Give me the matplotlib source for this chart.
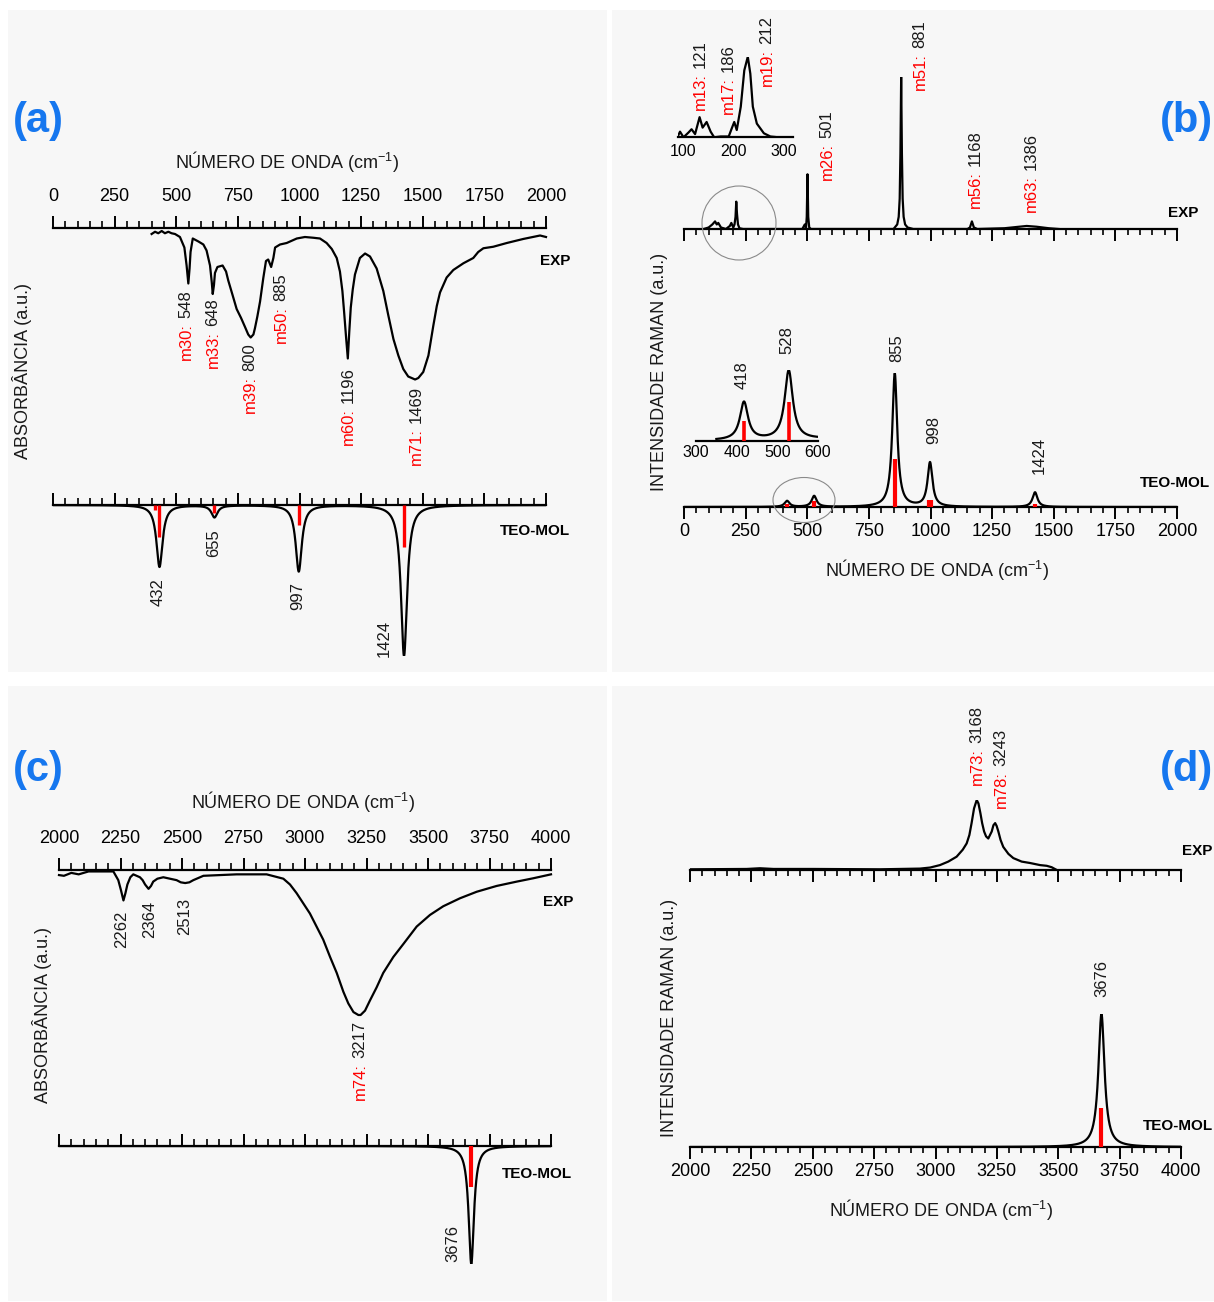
import numpy as np
import matplotlib
matplotlib.use('Agg')
import matplotlib.pyplot as plt
from matplotlib.patches import Rectangle, Ellipse
from matplotlib.ticker import MultipleLocator

plt.rcParams['font.family'] = ['Liberation Sans', 'DejaVu Sans']
plt.rcParams['mathtext.default'] = 'regular'

# ---------------- dados ----------------
# (a) IV experimental, 400-2000 cm-1 (absorbancia, u.a.)
ir_exp_wn = [400, 414, 427, 441, 454, 468, 481, 495, 515, 533,
             542, 549, 554, 558, 567, 590, 610, 623, 637, 644,
             648, 653, 657, 667, 688, 702, 711, 729, 745, 763,
             779, 792, 802, 813, 819, 829, 840, 853, 864, 873,
             885, 894, 901, 921, 948, 989, 1022, 1056, 1083, 1110,
             1131, 1151, 1164, 1174, 1181, 1189, 1196, 1202, 1208, 1216,
             1225, 1245, 1266, 1286, 1313, 1340, 1360, 1381, 1401, 1421,
             1441, 1469, 1482, 1502, 1523, 1543, 1557, 1570, 1597, 1624,
             1665, 1705, 1725, 1746, 1786, 1841, 1908, 1976, 2000]
ir_exp_abs = [0.04, 0.025, 0.035, 0.02, 0.035, 0.025, 0.035, 0.04, 0.06, 0.13,
              0.25, 0.37, 0.27, 0.16, 0.07, 0.09, 0.11, 0.15, 0.25, 0.36,
              0.44, 0.38, 0.30, 0.26, 0.25, 0.29, 0.35, 0.45, 0.54, 0.60,
              0.66, 0.71, 0.73, 0.71, 0.67, 0.59, 0.49, 0.335, 0.22, 0.21,
              0.26, 0.20, 0.13, 0.11, 0.10, 0.07, 0.06, 0.065, 0.07, 0.10,
              0.14, 0.20, 0.29, 0.42, 0.56, 0.73, 0.87, 0.69, 0.53, 0.41,
              0.31, 0.20, 0.17, 0.19, 0.27, 0.42, 0.58, 0.74, 0.85, 0.94,
              0.99, 1.01, 1.0, 0.96, 0.85, 0.65, 0.52, 0.43, 0.33, 0.28,
              0.235, 0.20, 0.16, 0.135, 0.125, 0.10, 0.073, 0.05, 0.06]

# (a) IV teorico
ir_teo_wn = [432, 655, 997, 1424]
ir_teo_int = [0.41, 0.08, 0.44, 1.0]
ir_teo_bar_wn = [415, 432, 655, 997, 1424]
ir_teo_bar = [0.03, 0.21, 0.05, 0.13, 0.28]

# (b) Raman experimental, 0-2000 cm-1
ra_exp_wn = [80, 100, 115, 126, 133, 139, 150, 170, 186, 192, 200, 205, 209, 212, 215, 219,
             225, 240, 480, 490, 495, 498, 501, 504, 508, 515, 850, 865, 871, 875, 878, 881,
             884, 887, 891, 897, 907, 930, 1150, 1160, 1168, 1176, 1190, 1300, 1360, 1390, 1430, 1480,
             1520]
ra_exp_int = [0.0, 0.01, 0.03, 0.05, 0.03, 0.04, 0.01, 0.0, 0.02, 0.04, 0.01, 0.03, 0.08, 0.18, 0.10, 0.03,
              0.005, 0.0, 0.0, 0.03, 0.005, 0.08, 0.36, 0.08, 0.01, 0.0, 0.0, 0.03, 0.08, 0.2, 0.5, 1.0,
              0.5, 0.2, 0.08, 0.03, 0.01, 0.0, 0.0, 0.01, 0.05, 0.01, 0.0, 0.005, 0.015, 0.02, 0.015, 0.005,
              0.0]
# detalhe 100-300
ins_exp_wn = [91, 94, 101, 111, 117, 124, 133, 139, 147, 155, 162, 175, 191, 197, 202, 207,
              215, 222, 229, 234, 239, 247, 261, 274, 290, 310]
ins_exp_int = [0.03, 0.07, 0.0, 0.06, 0.10, 0.04, 0.25, 0.12, 0.19, 0.07, 0.0, 0.01, 0.01, 0.11, 0.19, 0.09,
               0.38, 0.83, 1.0, 0.79, 0.38, 0.17, 0.05, 0.01, 0.0, 0.0]

# (b) Raman teorico
ra_teo_wn = [418, 528, 855, 998, 1424]
ra_teo_int = [0.045, 0.082, 1.0, 0.33, 0.11]
ra_teo_bar_wn = [418, 528, 855, 994, 1002, 1424]
ra_teo_bar = [0.024, 0.046, 0.36, 0.05, 0.05, 0.02]

# (c) IV experimental, 2000-4000 cm-1
ir2_exp_wn = [2000, 2020, 2050, 2080, 2120, 2150, 2221, 2241, 2252, 2262,
              2270, 2278, 2290, 2302, 2329, 2340, 2350, 2364, 2374, 2383,
              2400, 2424, 2478, 2495, 2513, 2530, 2546, 2587, 2722, 2844,
              2912, 2939, 2966, 2993, 3020, 3047, 3074, 3102, 3129, 3156,
              3176, 3197, 3217, 3226, 3244, 3264, 3291, 3318, 3359, 3400,
              3454, 3508, 3562, 3630, 3698, 3779, 3861, 3928, 4000]
ir2_exp_abs = [0.035, 0.04, 0.02, 0.03, 0.01, 0.01, 0.01, 0.07, 0.14, 0.21,
               0.16, 0.10, 0.05, 0.03, 0.05, 0.07, 0.10, 0.13, 0.11, 0.08,
               0.06, 0.05, 0.07, 0.085, 0.09, 0.085, 0.07, 0.04, 0.03, 0.03,
               0.06, 0.10, 0.16, 0.23, 0.30, 0.39, 0.48, 0.60, 0.71, 0.84,
               0.92, 0.98, 1.0, 1.0, 0.97, 0.90, 0.81, 0.71, 0.60, 0.51,
               0.39, 0.31, 0.25, 0.195, 0.15, 0.11, 0.08, 0.057, 0.03]
ir2_teo_wn = [3676]
ir2_teo_int = [1.0]
ir2_teo_bar = [0.35]

# (d) Raman experimental, 2000-4000 cm-1
ra2_exp_wn = [2000, 2231, 2285, 2340, 2502, 2774, 2937, 2978, 3018, 3052,
              3086, 3111, 3127, 3138, 3147, 3157, 3168, 3175, 3183, 3190,
              3198, 3206, 3215, 3222, 3229, 3236, 3243, 3249, 3256, 3265,
              3276, 3297, 3317, 3351, 3385, 3426, 3453, 3473, 3494]
ra2_exp_int = [0.01, 0.015, 0.025, 0.015, 0.015, 0.01, 0.02, 0.035, 0.07, 0.12,
               0.19, 0.29, 0.38, 0.50, 0.67, 0.88, 1.0, 0.95, 0.81, 0.67,
               0.55, 0.48, 0.45, 0.50, 0.55, 0.64, 0.67, 0.63, 0.55, 0.43,
               0.33, 0.23, 0.17, 0.12, 0.10, 0.07, 0.06, 0.04, 0.0]
ra2_teo_wn = [3676]
ra2_teo_int = [1.0]
ra2_teo_bar = [0.29]


def lorentz(x, centros, alturas, hwhm):
    # espectro teorico alargado com lorentzianas
    y = np.zeros_like(x)
    for c, a in zip(centros, alturas):
        y += a / (1 + ((x - c) / hwhm) ** 2)
    return y


W, H = 1214, 1302
fig = plt.figure(figsize=(W / 100, H / 100), dpi=100)
fig.patch.set_facecolor('white')

# fundo dos quatro paineis
bg = fig.add_axes([0, 0, 1, 1], zorder=-1)
bg.set_xlim(0, W)
bg.set_ylim(H, 0)
bg.axis('off')
for (x0, y0, x1, y1) in [(8, 10, 607, 672), (612, 10, 1214, 672), (8, 686, 607, 1301), (612, 686, 1214, 1301)]:
    bg.add_patch(Rectangle((x0, y0), x1 - x0, y1 - y0, fc='#f7f7f7', ec='none'))


def box(x0, x1, ytop, ybot):
    ax = fig.add_axes([x0 / W, 1 - ybot / H, (x1 - x0) / W, (ybot - ytop) / H], zorder=2)
    ax.patch.set_visible(False)
    for s in ax.spines.values():
        s.set_visible(False)
    ax.set_yticks([])
    return ax


def eixo(ax, lado, rotulos=True, tam=13, pad=3.3, maj=8.5, mnr=4.5, passo=(250, 50)):
    ax.spines[lado].set_visible(True)
    ax.spines[lado].set_linewidth(1.6)
    ax.xaxis.set_ticks_position(lado)
    ax.xaxis.set_major_locator(MultipleLocator(passo[0]))
    ax.xaxis.set_minor_locator(MultipleLocator(passo[1]))
    ax.tick_params(axis='x', which='major', direction='out', length=maj, width=1.4,
                   labelsize=tam, pad=pad)
    ax.tick_params(axis='x', which='minor', direction='out', length=mnr, width=1.2)
    lab = {'labeltop': False, 'labelbottom': False}
    if rotulos:
        lab['label' + lado] = True
    ax.tick_params(axis='x', which='both', **lab)


LW = 1.6
x_low = np.linspace(0, 2000, 8001)
x_high = np.linspace(2000, 4000, 8001)

# ---------- (a) ----------
ax = box(53, 546, 228, 378)
ax.plot(ir_exp_wn, ir_exp_abs, color='black', lw=LW, clip_on=False)
ax.set_xlim(0, 2000)
ax.set_ylim(1.0, 0.0)
eixo(ax, 'top', pad=7.3, maj=9, mnr=5)

ax = box(53, 546, 505, 656)
y = lorentz(x_low, ir_teo_wn, ir_teo_int, 15)
ax.plot(x_low, y, color='black', lw=LW)
ax.vlines(ir_teo_bar_wn, 0, ir_teo_bar, color='red', lw=2.4, zorder=3)
ax.set_xlim(0, 2000)
ax.set_ylim(y.max(), 0)
eixo(ax, 'top', rotulos=False, maj=9, mnr=5)

# ---------- (b) ----------
ax = box(684, 1177, 77, 229)
ax.plot(ra_exp_wn, ra_exp_int, color='black', lw=LW)
ax.set_xlim(0, 2000)
ax.set_ylim(0, 1.0)
eixo(ax, 'bottom', rotulos=False)

ax = box(678, 793, 56.7, 137.3)
ax.plot(ins_exp_wn, ins_exp_int, color='black', lw=LW)
ax.set_xlim(90, 319)
ax.set_ylim(0, 1.0)
eixo(ax, 'bottom', tam=11.5, pad=5, maj=0, mnr=0, passo=(100, 50))

ax = box(684, 1177, 373, 507)
y = lorentz(x_low, ra_teo_wn, ra_teo_int, 12)
ax.plot(x_low, y, color='black', lw=LW)
ax.vlines(ra_teo_bar_wn, 0, ra_teo_bar, color='red', lw=3, zorder=3)
ax.set_xlim(0, 2000)
ax.set_ylim(0, y.max())
eixo(ax, 'bottom')

ax = box(696, 818, 370, 441)
xi = np.linspace(350, 600, 2001)
yi = lorentz(xi, ra_teo_wn, ra_teo_int, 12)
ax.plot(xi, yi, color='black', lw=LW)
ax.vlines(ra_teo_bar_wn, 0, ra_teo_bar, color='red', lw=2.6, zorder=3)
ax.set_xlim(300, 600)
ax.set_ylim(0, yi.max())
eixo(ax, 'bottom', tam=11.5, pad=3, maj=0, mnr=0, passo=(100, 50))

# ---------- (c) ----------
ax = box(59, 551, 870, 1015)
ax.plot(ir2_exp_wn, ir2_exp_abs, color='black', lw=LW, clip_on=False)
ax.set_xlim(2000, 4000)
ax.set_ylim(1.0, 0.0)
eixo(ax, 'top', pad=7.5, maj=9, mnr=5)

ax = box(59, 551, 1146, 1264)
y = lorentz(x_high, ir2_teo_wn, ir2_teo_int, 13)
ax.plot(x_high, y, color='black', lw=LW)
ax.vlines(ir2_teo_wn, 0, ir2_teo_bar, color='red', lw=3, zorder=3)
ax.set_xlim(2000, 4000)
ax.set_ylim(y.max(), 0)
eixo(ax, 'top', rotulos=False, maj=9, mnr=5)

# ---------- (d) ----------
ax = box(690, 1181, 800, 870)
ax.plot(ra2_exp_wn, ra2_exp_int, color='black', lw=LW)
ax.set_xlim(2000, 4000)
ax.set_ylim(0, 1.0)
eixo(ax, 'bottom', rotulos=False)

ax = box(690, 1181, 1014, 1147)
y = lorentz(x_high, ra2_teo_wn, ra2_teo_int, 15)
ax.plot(x_high, y, color='black', lw=LW)
ax.vlines(ra2_teo_wn, 0, ra2_teo_bar, color='red', lw=3, zorder=3)
ax.set_xlim(2000, 4000)
ax.set_ylim(0, y.max())
eixo(ax, 'bottom', pad=3)

# ---------- textos ----------
ov = fig.add_axes([0, 0, 1, 1], zorder=10)
ov.set_xlim(0, W)
ov.set_ylim(H, 0)
ov.axis('off')
ov.patch.set_visible(False)
renderer = fig.canvas.get_renderer()
CINZA = '#1a1a1a'
TAM_ROT = 12


def vtxt(x, y, vermelho, preto, size=TAM_ROT):
    y0 = y
    if vermelho:
        t = ov.text(x, y0, vermelho, color='red', rotation=90, ha='center', va='bottom', fontsize=size)
        y0 -= t.get_window_extent(renderer).height + 0.28 * size * 100 / 72
    ov.text(x, y0, preto, color=CINZA, rotation=90, ha='center', va='bottom', fontsize=size)


# rotulos (a)
for x, yb, r, p in [(186, 360, 'm30:', '548'), (213, 368, 'm33:', '648'), (250, 413, 'm39:', '800'),
                    (281, 343, 'm50:', '885'), (348, 445, 'm60:', '1196'), (416, 465, 'm71:', '1469'),
                    (158, 606, '', '432'), (214, 557, '', '655'), (298, 610, '', '997'), (384, 657, '', '1424')]:
    vtxt(x, yb, r, p)
# rotulos (b)
for x, yb, r, p in [(700, 110, 'm13:', '121'), (728, 114, 'm17:', '186'), (767, 86, 'm19:', '212'),
                    (827, 180, 'm26:', '501'), (920, 90, 'm51:', '881'), (975, 208, 'm56:', '1168'),
                    (1031, 212, 'm63:', '1386'),
                    (742, 389, '', '418'), (787, 354, '', '528'), (897, 362, '', '855'),
                    (934, 444, '', '998'), (1039, 474, '', '1424')]:
    vtxt(x, yb, r, p)
# rotulos (c)
for x, yb, r, p in [(122, 948, '', '2262'), (150, 938, '', '2364'), (185, 935, '', '2513'),
                    (360, 1100, 'm74:', '3217'), (453, 1262, '', '3676')]:
    vtxt(x, yb, r, p)
# rotulos (d)
for x, yb, r, p in [(977, 785, 'm73:', '3168'), (1001, 808, 'm78:', '3243'), (1102, 997, '', '3676')]:
    vtxt(x, yb, r, p)

xlab = 'NÚMERO DE ONDA (cm$^{-1}$)'
for x, yy in [(287, 161), (937, 570), (303, 801), (941, 1210)]:
    ov.text(x, yy, xlab, ha='center', va='center', fontsize=13, color=CINZA)
for x, yy, s in [(22, 371, 'ABSORBÂNCIA (a.u.)'), (660, 372, 'INTENSIDADE RAMAN (a.u.)'),
                 (42, 1015, 'ABSORBÂNCIA (a.u.)'), (670, 1018, 'INTENSIDADE RAMAN (a.u.)')]:
    ov.text(x, yy, s, rotation=90, ha='center', va='center', fontsize=13, color=CINZA)

for x, yy, s in [(555, 261, 'EXP'), (535, 531, 'TEO-MOL'), (1183, 213, 'EXP'), (1175, 483, 'TEO-MOL'),
                 (558, 902, 'EXP'), (537, 1174, 'TEO-MOL'), (1197, 851, 'EXP'), (1178, 1126, 'TEO-MOL')]:
    ov.text(x, yy, s, ha='center', va='center', fontsize=11, fontweight='bold', color='black')

for x, yy, s in [(38, 121, '(a)'), (1186, 121, '(b)'), (38, 770, '(c)'), (1186, 770, '(d)')]:
    ov.text(x, yy, s, ha='center', va='center', fontsize=30, fontweight='bold', color='#1677ef')

# circulos de destaque
ov.add_patch(Ellipse((739, 223), 74, 74, fill=False, ec='#8a8a8a', lw=0.8))
ov.add_patch(Ellipse((804, 500), 62, 45, fill=False, ec='#8a8a8a', lw=0.8))

fig.savefig('out.png', dpi=100)
